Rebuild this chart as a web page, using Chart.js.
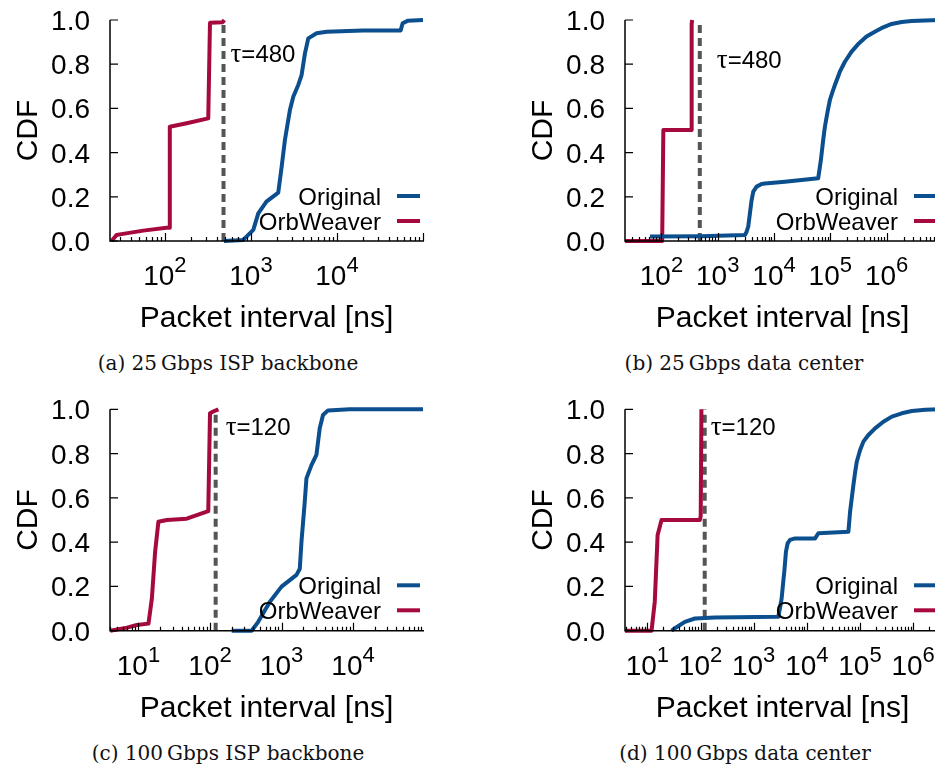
<!DOCTYPE html>
<html>
<head>
<meta charset="utf-8">
<script src="https://cdn.jsdelivr.net/npm/chart.js"></script>
<style>
  html, body { margin: 0; padding: 0; background: #fff; }
  body { width: 935px; height: 768px; overflow: hidden; position: relative; }
  canvas { position: absolute; }
  .caption {
    position: absolute; width: 460px; text-align: center;
    font-family: 'DejaVu Serif', serif; font-size: 20px; line-height: 24px; color: #111;
  }
</style>
</head>
<body>
<canvas id="chartA" width="467" height="345" style="left:0px;top:0px"></canvas>
<canvas id="chartB" width="500" height="345" style="left:467px;top:0px"></canvas>
<canvas id="chartC" width="467" height="345" style="left:0px;top:385px"></canvas>
<canvas id="chartD" width="500" height="345" style="left:467px;top:385px"></canvas>
<div class="caption" style="left:-2px;top:351px">(a) 25&#8201;Gbps ISP backbone</div>
<div class="caption" style="left:514px;top:351px">(b) 25&#8201;Gbps data center</div>
<div class="caption" style="left:-2px;top:741px">(c) 100&#8201;Gbps ISP backbone</div>
<div class="caption" style="left:515px;top:741px">(d) 100&#8201;Gbps data center</div>

<script>
// ---- data ----
// y axis (shared)
const cdfTicks = [0, 0.2, 0.4, 0.6, 0.8, 1.0];
const seriesNames = ['Original', 'OrbWeaver'];

// (a) 25 Gbps ISP backbone
const origXa = [486, 813, 1065, 1217, 1513, 2078, 2275, 2483, 2840, 3104, 3548, 3880, 4244, 4640, 5800, 7590, 20000, 55000, 58000, 67000, 100000];
const origYa = [0, 0.005, 0.05, 0.125, 0.178, 0.219, 0.336, 0.457, 0.593, 0.653, 0.706, 0.751, 0.849, 0.917, 0.94, 0.947, 0.952, 0.953, 0.985, 0.997, 1.0];
const orbXa = [24, 27.4, 30, 56, 104, 113, 114, 179, 319, 334, 336, 470, 490];
const orbYa = [0, 0.027, 0.03, 0.047, 0.06, 0.06, 0.517, 0.533, 0.555, 0.985, 0.988, 0.99, 1.0];
const tauA = 480;
const expA = [2, 3, 4];

// (b) 25 Gbps data center
const origXb = [62.5, 500, 3040, 3260, 3480, 3730, 4000, 4280, 4910, 6020, 6890, 15600, 61000, 68100, 74800, 80200, 89500, 98400, 109800, 120800, 148000, 181600, 239000, 313000, 440000, 619000, 871000, 1230000, 1850000, 2780000, 4790000, 8900000];
const origYb = [0.02, 0.022, 0.027, 0.042, 0.065, 0.125, 0.185, 0.223, 0.246, 0.258, 0.26, 0.268, 0.284, 0.367, 0.457, 0.517, 0.585, 0.638, 0.676, 0.706, 0.766, 0.811, 0.857, 0.891, 0.925, 0.947, 0.967, 0.982, 0.991, 0.995, 0.998, 1.0];
const orbXb = [22.5, 103, 108, 340, 344, 350];
const orbYb = [0, 0, 0.502, 0.502, 0.98, 1.0];
const tauB = 480;
const expB = [2, 3, 4, 5, 6];

// (c) 100 Gbps ISP backbone
const origXc = [201, 382, 472, 688, 1000, 1620, 1800, 1900, 2113, 2230, 2620, 3074, 3420, 3800, 4466, 8970, 95000];
const origYc = [0, 0, 0.04, 0.131, 0.199, 0.252, 0.28, 0.402, 0.583, 0.688, 0.748, 0.794, 0.914, 0.974, 0.995, 1.0, 1.0];
const orbXc = [4.03, 6.9, 9.5, 13.8, 15.4, 17.1, 19, 24.9, 47.3, 94.6, 100, 111, 131];
const orbYc = [0, 0.014, 0.026, 0.032, 0.146, 0.357, 0.492, 0.5, 0.506, 0.54, 0.982, 0.99, 1.0];
const tauC = 120;
const expC = [1, 2, 3, 4];

// (d) 100 Gbps data center
const origXd = [28.6, 33, 50.8, 78.5, 187, 2900, 3120, 3360, 3600, 3770, 4050, 4360, 4830, 6000, 14300, 16500, 60500, 65100, 70000, 75200, 80900, 87000, 100500, 116000, 144000, 192000, 275000, 397000, 612000, 945000, 1680000, 3200000];
const origYd = [0, 0.011, 0.04, 0.055, 0.06, 0.063, 0.101, 0.146, 0.221, 0.267, 0.357, 0.395, 0.41, 0.417, 0.417, 0.44, 0.447, 0.537, 0.598, 0.658, 0.715, 0.763, 0.816, 0.854, 0.884, 0.914, 0.944, 0.967, 0.982, 0.992, 0.998, 1.0];
const orbXd = [3.8, 12, 13.8, 15.6, 18.5, 97.5, 101, 104];
const orbYd = [0, 0, 0.131, 0.432, 0.5, 0.5, 0.52, 1.0];
const tauD = 120;
const expD = [1, 2, 3, 4, 5, 6];

// ---- styling ----
const BLUE = '#0b4f8e';
const RED = '#a6093d';
const SANS = "'Liberation Sans', Arial, Helvetica, sans-serif";
const SERIF = "'Liberation Serif', 'DejaVu Serif', serif";

function toPoints(xs, ys) {
  return xs.map((x, i) => ({ x: x, y: ys[i] }));
}

// Draws axes, inward ticks, superscript labels, titles, legend and tau note
const panelDecor = {
  id: 'panelDecor',
  afterDatasetsDraw(chart, args, opts) {
    const ctx = chart.ctx;
    const area = chart.chartArea;
    const xs = chart.scales.x;
    const ys = chart.scales.y;
    ctx.save();

    // axis lines (left + bottom only)
    ctx.strokeStyle = '#000';
    ctx.lineWidth = 1.5;
    ctx.beginPath();
    ctx.moveTo(area.left, area.top);
    ctx.lineTo(area.left, area.bottom);
    ctx.lineTo(area.right + 1, area.bottom);
    ctx.stroke();

    // x ticks, major + minor, pointing inward
    ctx.lineWidth = 1.2;
    const lo = Math.floor(Math.log10(xs.min));
    const hi = Math.ceil(Math.log10(xs.max));
    ctx.beginPath();
    for (let e = lo; e <= hi; e++) {
      for (let m = 1; m <= 9; m++) {
        const v = m * Math.pow(10, e);
        if (v < xs.min || v > xs.max) continue;
        const px = Math.round(xs.getPixelForValue(v)) + 0.5;
        const len = m === 1 ? 8 : 4;
        ctx.moveTo(px, area.bottom);
        ctx.lineTo(px, area.bottom - len);
      }
    }
    // y ticks
    cdfTicks.forEach(v => {
      const py = ys.getPixelForValue(v);
      ctx.moveTo(area.left, py);
      ctx.lineTo(area.left + 8, py);
    });
    ctx.stroke();

    ctx.fillStyle = '#000';
    // y tick labels
    ctx.font = '28px ' + SANS;
    ctx.textAlign = 'right';
    ctx.textBaseline = 'alphabetic';
    cdfTicks.forEach(v => {
      const py = ys.getPixelForValue(v);
      ctx.fillText(v.toFixed(1), area.left - 20, py + 10);
    });

    // x tick labels 10^n
    ctx.textAlign = 'left';
    opts.exps.forEach(e => {
      const px = xs.getPixelForValue(Math.pow(10, e));
      ctx.font = '28px ' + SANS;
      const w1 = ctx.measureText('10').width;
      ctx.font = '22px ' + SANS;
      const w2 = ctx.measureText(String(e)).width;
      const x0 = px - (w1 + w2) / 2;
      ctx.font = '28px ' + SANS;
      ctx.fillText('10', x0, area.bottom + 44);
      ctx.font = '22px ' + SANS;
      ctx.fillText(String(e), x0 + w1, area.bottom + 31);
    });

    // axis titles
    ctx.font = '30px ' + SANS;
    ctx.textAlign = 'center';
    ctx.fillText('Packet interval [ns]', (area.left + area.right) / 2, area.bottom + 86);
    ctx.save();
    ctx.translate(area.left - 73, (area.top + area.bottom) / 2);
    ctx.rotate(-Math.PI / 2);
    ctx.fillText('CDF', 0, 0);
    ctx.restore();

    // tau annotation (greek letter in a serif face, like the symbol font)
    ctx.textAlign = 'left';
    const tauPx = xs.getPixelForValue(opts.tau);
    const tx = tauPx + opts.tauDx;
    const ty = area.top + opts.tauDy;
    ctx.font = '27px ' + SERIF;
    ctx.fillText('\u03c4', tx, ty);
    const tw = ctx.measureText('\u03c4').width;
    ctx.font = '24px ' + SANS;
    ctx.fillText('=' + opts.tau, tx + tw, ty);

    // legend, inside plot on the right
    const rows = [
      { label: seriesNames[0], color: BLUE, y: area.top + 176 },
      { label: seriesNames[1], color: RED, y: area.top + 201 }
    ];
    rows.forEach(r => {
      ctx.fillStyle = '#000';
      ctx.textAlign = 'right';
      ctx.fillText(r.label, area.right - 42, r.y + 9);
      ctx.strokeStyle = r.color;
      ctx.lineWidth = 4;
      ctx.beginPath();
      ctx.moveTo(area.right - 26, r.y);
      ctx.lineTo(area.right - 3, r.y);
      ctx.stroke();
    });

    ctx.restore();
  }
};

function makePanel(id, p) {
  const canvas = document.getElementById(id);
  const H = canvas.height;
  const W = canvas.width;
  return new Chart(canvas.getContext('2d'), {
    type: 'scatter',
    data: {
      datasets: [
        {
          label: seriesNames[0],
          data: toPoints(p.origX, p.origY),
          borderColor: BLUE,
          borderWidth: 4,
          borderJoinStyle: 'round',
          showLine: true,
          pointRadius: 0,
          tension: 0,
          clip: false
        },
        {
          label: seriesNames[1],
          data: toPoints(p.orbX, p.orbY),
          borderColor: RED,
          borderWidth: 4,
          borderJoinStyle: 'round',
          showLine: true,
          pointRadius: 0,
          tension: 0,
          clip: false
        },
        {
          label: 'tau',
          data: [{ x: p.tau, y: 0 }, { x: p.tau, y: 1 }],
          borderColor: '#555555',
          borderWidth: 4,
          borderDash: [8, 5],
          showLine: true,
          pointRadius: 0,
          clip: false
        }
      ]
    },
    options: {
      responsive: false,
      animation: false,
      devicePixelRatio: 1,
      layout: { padding: { left: 0, top: p.top, right: W - p.right, bottom: 0 } },
      plugins: {
        legend: { display: false },
        tooltip: { enabled: false },
        panelDecor: { exps: p.exps, tau: p.tau, tauDx: p.tauDx, tauDy: p.tauDy }
      },
      scales: {
        x: {
          type: 'logarithmic',
          min: p.xmin,
          max: p.xmax,
          grid: { display: false },
          border: { display: false },
          ticks: { display: false },
          afterFit: s => { s.height = H - p.bottom; }
        },
        y: {
          type: 'linear',
          min: 0,
          max: 1,
          grid: { display: false },
          border: { display: false },
          ticks: { display: false },
          afterFit: s => { s.width = p.left; }
        }
      }
    },
    plugins: [panelDecor]
  });
}

makePanel('chartA', {
  origX: origXa, origY: origYa, orbX: orbXa, orbY: orbYa, tau: tauA, exps: expA,
  xmin: 23, xmax: 100000, left: 110, right: 423, top: 20, bottom: 241, tauDx: 7, tauDy: 42
});
makePanel('chartB', {
  origX: origXb, origY: origYb, orbX: orbXb, orbY: orbYb, tau: tauB, exps: expB,
  xmin: 22.5, xmax: 8900000, left: 158, right: 473, top: 20, bottom: 241, tauDx: 17, tauDy: 48
});
makePanel('chartC', {
  origX: origXc, origY: origYc, orbX: orbXc, orbY: orbYc, tau: tauC, exps: expC,
  xmin: 4, xmax: 95000, left: 110, right: 423, top: 24.3, bottom: 245.7, tauDx: 10, tauDy: 26
});
makePanel('chartD', {
  origX: origXd, origY: origYd, orbX: orbXd, orbY: orbYd, tau: tauD, exps: expD,
  xmin: 3.8, xmax: 3200000, left: 158, right: 473, top: 24.3, bottom: 245.7, tauDx: 6, tauDy: 26
});
</script>
</body>
</html>
